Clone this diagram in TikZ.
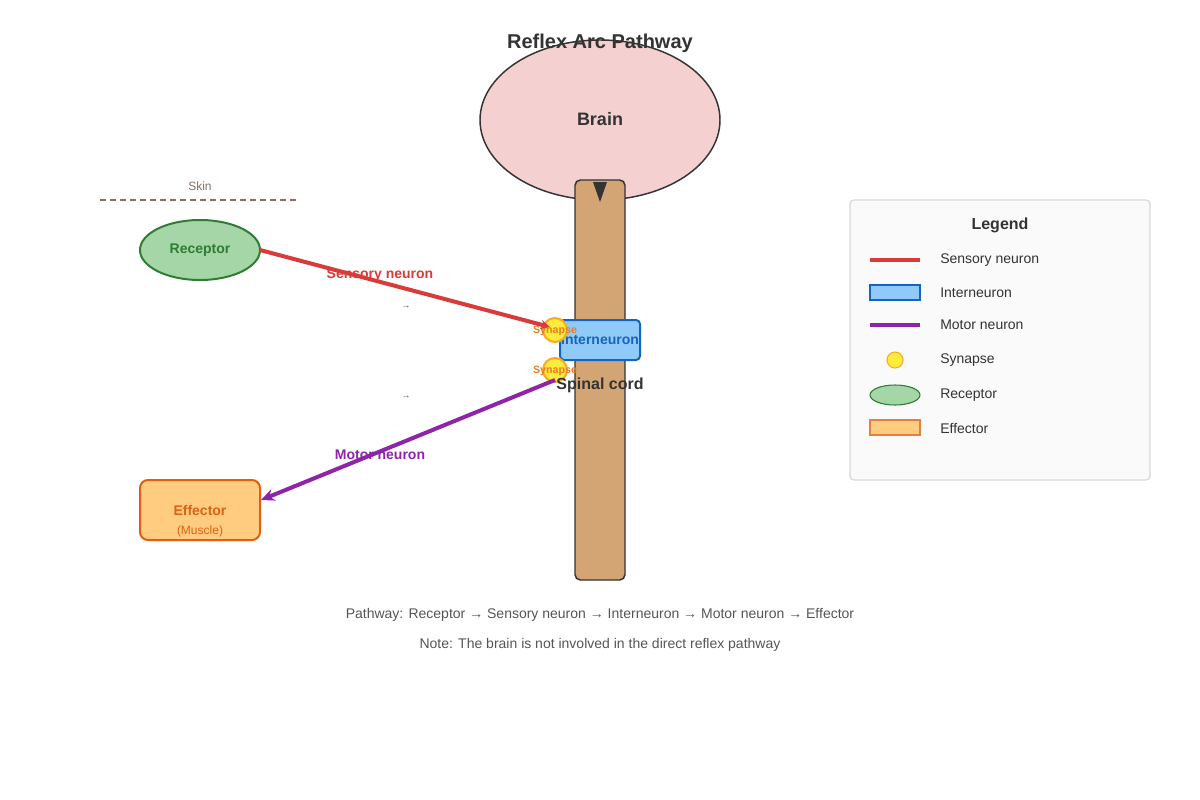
\documentclass[tikz,border=0pt]{standalone}
\usepackage{fontspec}
\setmainfont{Liberation Sans}
\usetikzlibrary{arrows.meta,shapes.geometric}
\definecolor{txt}{HTML}{333333}
\definecolor{brainf}{HTML}{F4D0D0}
\definecolor{cordf}{HTML}{D4A574}
\definecolor{skinc}{HTML}{8D6E63}
\definecolor{recf}{HTML}{A5D6A7}
\definecolor{recd}{HTML}{2E7D32}
\definecolor{effd}{HTML}{E06010}
\definecolor{efff}{HTML}{FFCC80}
\definecolor{sens}{HTML}{D93A3A}
\definecolor{motor}{HTML}{8E24AA}
\definecolor{intf}{HTML}{90CAF9}
\definecolor{intd}{HTML}{1565C0}
\definecolor{synf}{HTML}{FFEB3B}
\definecolor{synd}{HTML}{F9A825}
\definecolor{synt}{HTML}{E67E22}
\definecolor{gr}{HTML}{555555}
\newcommand{\fs}[1]{\fontsize{#1}{#1}\selectfont}
\begin{document}
\begin{tikzpicture}[x=0.75pt,y=-0.75pt,
  lbl/.style={inner sep=0,anchor=center},
  synap/.style={circle,draw=synd,fill=synf,line width=1.5pt,minimum size=18pt,inner sep=0},
  syntxt/.style={lbl,text=synt,font=\fs{8}\bfseries}]
\useasboundingbox (0,0) rectangle (1200,800);
\node[ellipse,draw=txt,fill=brainf,line width=1.1pt,minimum width=180pt,minimum height=120pt] (brain) at (600,120) {};
\node[lbl,text=txt,font=\fs{13.5}\bfseries] (brl) at (600,119) {Brain};
\node[lbl,text=txt,font=\fs{15}\bfseries] (title) at (600,43) {Reflex Arc Pathway};
\node[draw=txt,fill=cordf,line width=1.1pt,rounded corners=4pt,minimum width=37.5pt,minimum height=300pt,inner sep=0] (cord) at (600,380) {};
\fill[txt] (593,182) -- (607,182) -- (600,202) -- cycle;
\node[lbl,text=skinc,font=\fs{9}] (skinl) at (200,186) {Skin};
\coordinate (s1) at (100,200); \coordinate (s2) at (300,200);
\draw[skinc,line width=2.2pt,dash pattern=on 4.5pt off 3pt] (s1) -- (s2);
\node[ellipse,draw=recd,fill=recf,line width=1.5pt,minimum width=90pt,minimum height=45pt,inner sep=0] (rec) at (200,250) {};
\node[lbl,text=recd,font=\fs{10.5}\bfseries] at (200,250) {Receptor};
\node[draw=effd,fill=efff,line width=1.5pt,rounded corners=6pt,minimum width=90pt,minimum height=45pt,inner sep=0] (eff) at (200,510) {};
\node[lbl,text=effd,font=\fs{10.5}\bfseries] at (200,510) {Effector};
\node[lbl,text=effd,font=\fs{9}] at (200,531) {(Muscle)};
\node[draw=intd,fill=intf,line width=1.5pt,rounded corners=3pt,minimum width=60pt,minimum height=30pt,inner sep=0] (inter) at (600,340) {};
\node[lbl,text=intd,font=\fs{10.5}\bfseries] at (600,340) {Interneuron};
\node[synap] (syn1) at (555,330) {};
\node[synap] (syn2) at (555,370) {};
\node[syntxt] at (555,331) {Synapse};
\node[syntxt] at (555,371) {Synapse};
\node[lbl,text=txt,font=\fs{12}\bfseries] (scl) at (600,385) {Spinal cord};
\coordinate (sa) at (260,250); \coordinate (sb) at (550,327);
\draw[sens,line width=3pt,-{Stealth[length=7pt,width=7pt]}] (sa) -- (sb);
\coordinate (ma) at (555,380); \coordinate (mb) at (261,500);
\draw[motor,line width=3pt,-{Stealth[length=10pt,width=9pt]}] (ma) -- (mb);
\node[lbl,text=sens,font=\fs{10.5}\bfseries] at (380,275) {Sensory neuron};
\node[lbl,text=motor,font=\fs{10.5}\bfseries] at (380,455) {Motor neuron};
\node[lbl,text=gr,font=\fs{7}] at (406,307) {→};
\node[lbl,text=gr,font=\fs{7}] at (406,397) {→};
% legend
\node[draw=black!15,fill=black!2,rounded corners=3pt,line width=1pt,minimum width=225pt,minimum height=210pt,inner sep=0] (leg) at (1000,340) {};
\node[lbl,text=txt,font=\fs{12}\bfseries] at (1000,225) {Legend};
\coordinate (l1a) at (870,260); \coordinate (l1b) at (920,260);
\draw[sens,line width=3pt] (l1a) -- (l1b);
\node[draw=intd,fill=intf,line width=0.8pt,minimum width=37.5pt,minimum height=11.25pt,inner sep=0] at (895,292.5) {};
\coordinate (l3a) at (870,325); \coordinate (l3b) at (920,325);
\draw[motor,line width=3pt] (l3a) -- (l3b);
\node[circle,draw=synd,fill=synf,line width=0.8pt,minimum size=12pt,inner sep=0] at (895,360) {};
\node[ellipse,draw=recd,fill=recf,line width=0.8pt,minimum width=37.5pt,minimum height=15pt,inner sep=0] at (895,395) {};
\node[draw=effd!80,fill=efff,line width=0.8pt,minimum width=37.5pt,minimum height=11.25pt,inner sep=0] at (895,427.5) {};
\foreach \t/\y in {Sensory neuron/260,Interneuron/293,Motor neuron/325,Synapse/360,Receptor/395,Effector/428}
  \node[inner sep=0,anchor=west,text=txt,font=\fs{10.5}] at (940,\y) {\t};
\node[lbl,text=gr,font=\fs{10.5}] at (600,615) {Pathway: Receptor → Sensory neuron → Interneuron → Motor neuron → Effector};
\node[lbl,text=gr,font=\fs{10.5}] at (600,645) {Note: The brain is not involved in the direct reflex pathway};
\end{tikzpicture}
\end{document}
